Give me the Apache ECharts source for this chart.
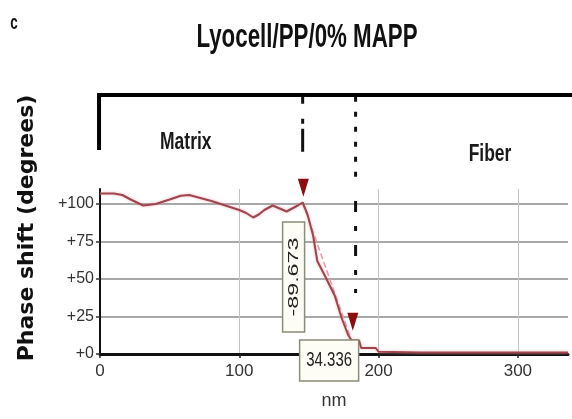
<!DOCTYPE html>
<html><head><meta charset="utf-8">
<script src="https://cdn.jsdelivr.net/npm/echarts@6/dist/echarts.min.js"></script>
<style>html,body{margin:0;padding:0;background:#fff}#c{width:572px;height:419px}</style>
</head><body><div id="c"></div>
<script>
const distanceNm = [0, 10, 16, 22, 31, 40, 50, 58, 64, 70, 80, 90, 100, 105, 110, 114, 118, 124, 129, 134, 138, 142, 145.5, 149, 153, 156, 161, 168.5, 173.5, 178, 180.6, 186, 187.5, 198, 200, 230, 270, 300, 336];
const phaseDeg   = [107, 107, 106, 103, 99, 100, 103, 105.5, 106, 104.5, 102, 99, 96, 94, 91, 93, 96, 99, 97, 95, 97, 99, 101, 93, 79, 62, 53, 39, 24, 13, 9, 9, 4, 4, 1.5, 1, 1, 1, 1];
const xTicks = [0, 100, 200, 300];
const yTicks = [0, 25, 50, 75, 100];
const cursorNm = [146, 181.5];
const cursorDeg = [109.5, 21.5];
const boundaryNm = [145.5, 183.5];
const readouts = ['-89.673', '34.336'];
const regionNames = ['Matrix', 'Fiber'];
const titleText = 'Lyocell/PP/0% MAPP';
const panelLetter = 'c';
const yName = 'Phase shift (degrees)';
const xName = 'nm';

const SANS = "'Liberation Sans',Arial,sans-serif";
const chart = echarts.init(document.getElementById('c'), null, {renderer: 'canvas'});

const data = distanceNm.map((x, i) => [x, phaseDeg[i]]);
const iStart = 22, iEnd = 30;

chart.setOption({
  animation: false,
  backgroundColor: '#fff',
  grid: {left: 100, right: 4, top: 189, bottom: 65, containLabel: false},
  xAxis: {
    type: 'value', min: 0, max: 336,
    axisLine: {lineStyle: {color: '#111', width: 3}},
    axisTick: {customValues: xTicks, length: 4, lineStyle: {color: '#222', width: 1.5}},
    axisLabel: {customValues: xTicks, fontFamily: SANS, fontSize: 17, color: '#333', margin: 9},
    splitLine: {show: true, lineStyle: {color: '#c4c4c4', width: 1}},
    name: xName, nameLocation: 'middle', nameGap: 38,
    nameTextStyle: {fontFamily: SANS, fontSize: 18, color: '#333'}
  },
  yAxis: {
    type: 'value', min: 0, max: 110,
    axisLine: {show: true, lineStyle: {color: '#111', width: 2}},
    axisTick: {show: true, customValues: yTicks, length: 4, lineStyle: {color: '#333', width: 1.5}},
    axisLabel: {customValues: yTicks, formatter: v => '+' + v, fontFamily: SANS, fontSize: 16, color: '#333', margin: 6},
    splitLine: {show: true, lineStyle: {color: '#a8a8a8', width: 2}}
  },
  series: [{
    type: 'line', data: data, showSymbol: false, smooth: false, z: 5,
    lineStyle: {color: '#a0444d', width: 2, shadowColor: 'rgba(230,150,160,0.7)', shadowBlur: 3},
    markPoint: {
      symbol: 'triangle', symbolRotate: 180, symbolSize: [11, 18], silent: true,
      itemStyle: {color: '#8b0d0d'}, label: {show: false},
      data: cursorNm.map((x, i) => ({coord: [x, cursorDeg[i]], symbolOffset: i === 0 ? [0, -2] : [0, 0]}))
    },
    markLine: {
      symbol: 'none', silent: true, label: {show: false},
      lineStyle: {type: 'dashed', color: '#e59aa3', width: 1.5},
      data: [[{coord: [distanceNm[iStart], phaseDeg[iStart]]}, {coord: [distanceNm[iEnd], phaseDeg[iEnd]]}]]
    }
  }]
});

function px(x, y) { return chart.convertToPixel({gridIndex: 0}, [x, y]); }

function buildGraphics() {
  const g = [];
  // title and panel letter
  g.push({type: 'text', z: 10, x: 307, y: 38, scaleX: 0.72, scaleY: 1.05,
          style: {text: titleText, font: "bold 31px " + SANS, fill: '#111', align: 'center', verticalAlign: 'middle'}});
  g.push({type: 'text', z: 10, x: 14, y: 24, scaleX: 0.75, scaleY: 1.1,
          style: {text: panelLetter, font: "bold 18px " + SANS, fill: '#111', align: 'center', verticalAlign: 'middle'}});
  const tl = px(-0.7, 172.7), bl = px(-0.7, 136), tr = px(345, 172.7);
  g.push({type: 'polyline', z: 10, shape: {points: [bl, tl, tr]}, style: {stroke: '#000', lineWidth: 4, fill: null}});
  // boundary dash-dot lines
  const a0 = px(boundaryNm[0], 171.5), a1 = px(boundaryNm[0], 134);
  g.push({type: 'line', z: 10, shape: {x1: a0[0], y1: a0[1], x2: a1[0], y2: a1[1]},
          style: {stroke: '#111', lineWidth: 3, lineDash: [7, 15, 5, 5, 23, 10]}});
  const b0 = px(boundaryNm[1], 171.5), b1 = px(boundaryNm[1], 114), b2 = px(boundaryNm[1], 102), b3 = px(boundaryNm[1], 40.7);
  g.push({type: 'line', z: 10, shape: {x1: b0[0], y1: b0[1], x2: b1[0], y2: b1[1]},
          style: {stroke: '#111', lineWidth: 3, lineDash: [5, 10]}});
  g.push({type: 'line', z: 10, shape: {x1: b2[0], y1: b2[1], x2: b3[0], y2: b3[1]},
          style: {stroke: '#111', lineWidth: 3, lineDash: [11, 14, 5, 14]}});
  // region names
  const m = px(61.6, 140.7), f = px(280, 132.7);
  g.push({type: 'text', z: 10, x: m[0], y: m[1], scaleX: 0.76,
          style: {text: regionNames[0], font: "bold 23px " + SANS, fill: '#1a1a1a', align: 'center', verticalAlign: 'middle'}});
  g.push({type: 'text', z: 10, x: f[0], y: f[1], scaleX: 0.76,
          style: {text: regionNames[1], font: "bold 23px " + SANS, fill: '#1a1a1a', align: 'center', verticalAlign: 'middle'}});
  // y axis title
  g.push({type: 'text', z: 10, x: 27, y: 228, rotation: Math.PI / 2,
          style: {text: yName, font: "bold 22px 'DejaVu Sans',sans-serif", fill: '#111', align: 'center', verticalAlign: 'middle'}});
  // readout boxes
  const c1 = px(139, 51.3);
  g.push({type: 'rect', z: 20, shape: {x: c1[0] - 11, y: c1[1] - 55, width: 22, height: 110},
          style: {fill: '#fdfdf6', stroke: '#8c8c7a', lineWidth: 1.5}});
  g.push({type: 'text', z: 21, x: c1[0] + 0.5, y: c1[1], rotation: Math.PI / 2, scaleX: 1.55,
          style: {text: readouts[0], font: "15px " + SANS, fill: '#222', align: 'center', verticalAlign: 'middle'}});
  const c2 = px(164.5, -4.3);
  g.push({type: 'rect', z: 20, shape: {x: c2[0] - 29.5, y: c2[1] - 20.5, width: 59, height: 41},
          style: {fill: '#fdfdf6', stroke: '#8c8c7a', lineWidth: 1.5}});
  g.push({type: 'text', z: 21, x: c2[0], y: c2[1], scaleY: 1.4,
          style: {text: readouts[1], font: "15px " + SANS, fill: '#222', align: 'center', verticalAlign: 'middle'}});
  chart.setOption({graphic: {elements: g}});
}
buildGraphics();
</script>
</body></html>
